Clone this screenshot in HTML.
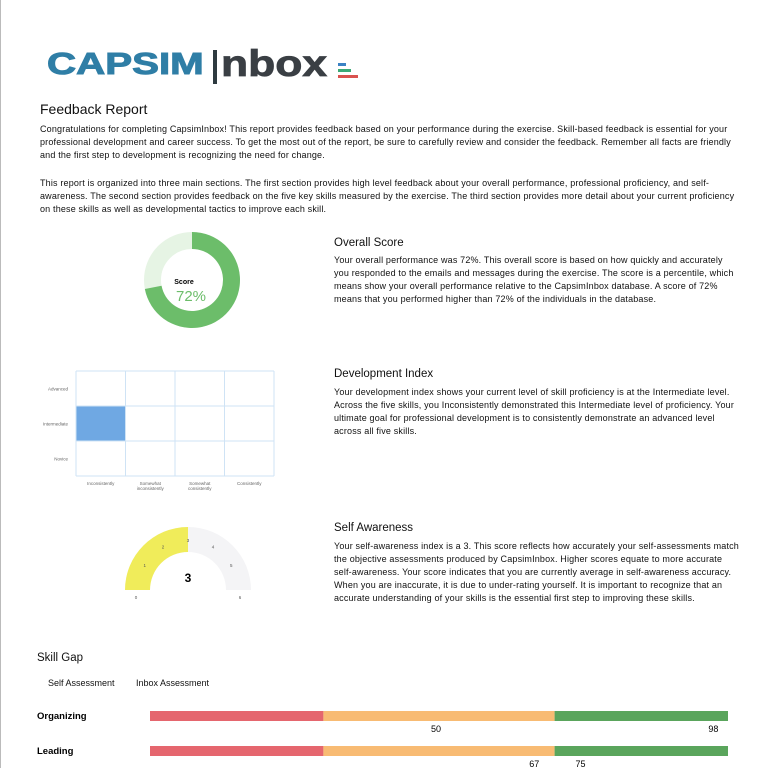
<!DOCTYPE html>
<html><head><meta charset="utf-8"><style>
body{margin:0;width:768px;height:768px;overflow:hidden;background:#fff;font-family:"Liberation Sans","DejaVu Sans",sans-serif;color:#111;position:relative}
.a{position:absolute}
p{margin:0}
.t{font-size:9px;line-height:13px;letter-spacing:0.17px}
h2{position:absolute;margin:0;font-weight:normal;font-size:11.5px}
</style></head><body>
<div class="a" style="left:0;top:0;width:1px;height:768px;background:#bbb"></div>
<div class="a" style="left:47px;top:46px;font-family:'Liberation Sans',sans-serif;font-weight:bold;font-size:31px;line-height:36px;color:#2f7ea6;transform:scaleX(1.3);transform-origin:0 0;-webkit-text-stroke:1px #2f7ea6">CAPSIM</div>
<div class="a" style="left:213px;top:50px;width:4px;height:34px;background:#2e3a40"></div>
<div class="a" style="left:221px;top:44px;font-family:'Liberation Sans',sans-serif;font-weight:bold;font-size:37px;line-height:40px;color:#3a3f44;transform:scaleX(1.2);transform-origin:0 0;-webkit-text-stroke:0.8px #3a3f44">nbox</div>
<div class="a" style="left:338px;top:63px">
<div style="width:8px;height:3px;background:#3b82c4"></div><div style="width:13px;height:3px;background:#3aaa77;margin-top:3px"></div><div style="width:20px;height:3px;background:#d9534f;margin-top:3px"></div></div>
<div class="a" style="left:40px;top:101px;font-size:14px">Feedback Report</div>
<p class="a t" style="left:40px;top:123px;width:700px">Congratulations for completing CapsimInbox! This report provides feedback based on your performance during the exercise. Skill-based feedback is essential for your professional development and career success. To get the most out of the report, be sure to carefully review and consider the feedback. Remember all facts are friendly and the first step to development is recognizing the need for change.</p>
<p class="a t" style="left:40px;top:177px;width:700px">This report is organized into three main sections. The first section provides high level feedback about your overall performance, professional proficiency, and self-awareness. The second section provides feedback on the five key skills measured by the exercise. The third section provides more detail about your current proficiency on these skills as well as developmental tactics to improve each skill.</p>

<h2 style="left:334px;top:237px">Overall Score</h2>
<p class="a t" style="left:334px;top:254px;width:400px">Your overall performance was 72%. This overall score is based on how quickly and accurately you responded to the emails and messages during the exercise. The score is a percentile, which means show your overall performance relative to the CapsimInbox database. A score of 72% means that you performed higher than 72% of the individuals in the database.</p>
<h2 style="left:334px;top:368px">Development Index</h2>
<p class="a t" style="left:334px;top:386px;width:405px">Your development index shows your current level of skill proficiency is at the Intermediate level. Across the five skills, you Inconsistently demonstrated this Intermediate level of proficiency. Your ultimate goal for professional development is to consistently demonstrate an advanced level across all five skills.</p>
<h2 style="left:334px;top:522px">Self Awareness</h2>
<p class="a t" style="left:334px;top:540px;width:405px">Your self-awareness index is a 3. This score reflects how accurately your self-assessments match the objective assessments produced by CapsimInbox. Higher scores equate to more accurate self-awareness. Your score indicates that you are currently average in self-awareness accuracy. When you are inaccurate, it is due to under-rating yourself. It is important to recognize that an accurate understanding of your skills is the essential first step to improving these skills.</p>

<svg class="a" style="left:0;top:0" width="768" height="768" id="chart"></svg>

<div class="a" style="left:37px;top:652px;font-size:11.5px">Skill Gap</div>
<div class="a" style="left:48px;top:678px;font-size:9px">Self Assessment</div>
<div class="a" style="left:136px;top:678px;font-size:9px">Inbox Assessment</div>

<script>
const NS='http://www.w3.org/2000/svg';
const svg=document.getElementById('chart');
function mk(tag,attrs,parent){const e=document.createElementNS(NS,tag);for(const k in attrs)e.setAttribute(k,attrs[k]);(parent||svg).appendChild(e);return e;}
function arc(cx,cy,r1,r2,a0,a1){
 const p=(r,a)=>[cx+r*Math.sin(a*Math.PI/180),cy-r*Math.cos(a*Math.PI/180)];
 const l=(a1-a0)>180?1:0;const [x0,y0]=p(r2,a0),[x1,y1]=p(r2,a1),[x2,y2]=p(r1,a1),[x3,y3]=p(r1,a0);
 return `M${x0},${y0}A${r2},${r2} 0 ${l} 1 ${x1},${y1}L${x2},${y2}A${r1},${r1} 0 ${l} 0 ${x3},${y3}Z`;}

// Donut
const scorePct=72;
mk('circle',{cx:192,cy:280,r:39.5,fill:'none',stroke:'#e6f4e4','stroke-width':17});
let d=mk('path',{d:arc(192,280,31,48,0,scorePct*3.6),fill:'#6cbd6a'});

let t=mk('text',{x:184,y:284,'font-size':7,'font-weight':'bold','text-anchor':'middle'});t.textContent='Score';
t=mk('text',{x:191,y:301,'font-size':15,fill:'#6cbd6a','text-anchor':'middle'});t.textContent=scorePct+'%';


// Development grid
const rowLabels=['Advanced','Intermediate','Novice'];
const colLabels=[['Inconsistently'],['Somewhat','inconsistently'],['Somewhat','consistently'],['Consistently']];
const devLevel=1, devConsistency=0;
const gx=76,gy=371,cw=49.5,ch=35;
let cell=mk('rect',{x:gx+devConsistency*cw,y:gy+devLevel*ch,width:cw,height:ch,fill:'#6fa8e3'});

for(let i=0;i<=4;i++)mk('line',{x1:gx+i*cw,y1:gy,x2:gx+i*cw,y2:gy+3*ch,stroke:'#cfe3f5','stroke-width':1});
for(let j=0;j<=3;j++)mk('line',{x1:gx,y1:gy+j*ch,x2:gx+4*cw,y2:gy+j*ch,stroke:'#cfe3f5','stroke-width':1});
rowLabels.forEach((s,j)=>{const e=mk('text',{x:gx-8,y:gy+j*ch+ch/2+2,'font-size':4.5,fill:'#666','text-anchor':'end'});e.textContent=s;});
colLabels.forEach((ls,i)=>ls.forEach((s,k)=>{const e=mk('text',{x:gx+i*cw+cw/2,y:gy+3*ch+9+k*5,'font-size':4.5,fill:'#666','text-anchor':'middle'});e.textContent=s;}));

// Gauge
const gaugeMax=6, gaugeVal=3, gcx=188, gcy=590;
mk('path',{d:arc(gcx,gcy,38,63,-90,90),fill:'#f4f4f6'});
let g=mk('path',{d:arc(gcx,gcy,38,63,-90,-90+180*gaugeVal/gaugeMax),fill:'#f0ec5a'});

for(let i=0;i<=gaugeMax;i++){const a=(-90+180*i/gaugeMax)*Math.PI/180;const r=(i==0||i==gaugeMax)?52:50;
 const e=mk('text',{x:gcx+r*Math.sin(a),y:gcy-r*Math.cos(a)+(i==0||i==gaugeMax?9:2),'font-size':4.5,fill:'#555','text-anchor':'middle'});e.textContent=i;}
t=mk('text',{x:gcx,y:gcy-8,'font-size':12,'font-weight':'bold','text-anchor':'middle'});t.textContent=gaugeVal;

// Skill gap bars
const skills=['Organizing','Leading'];
const selfVals=[50,67];
const inboxVals=[98,75];
const bands=[[0,30,'#e5666e'],[30,70,'#f8bb73'],[70,100,'#5aa55c']];
const bx0=150,bx1=728,xs=v=>bx0+(bx1-bx0)*v/100;
skills.forEach((s,i)=>{const y=711+i*35;
 const lb=mk('text',{x:37,y:y+8,'font-size':9.5,'font-weight':'bold'});lb.textContent=s;
 
 bands.forEach(b=>{const r=mk('rect',{x:xs(b[0]),y:y,width:xs(b[1])-xs(b[0]),height:10,fill:b[2]});
  });
 [selfVals[i],inboxVals[i]].forEach(v=>{const e=mk('text',{x:xs(v)+2,y:y+21,'font-size':9,'text-anchor':'end'});e.textContent=v;
  });
});
</script>
</body></html>
